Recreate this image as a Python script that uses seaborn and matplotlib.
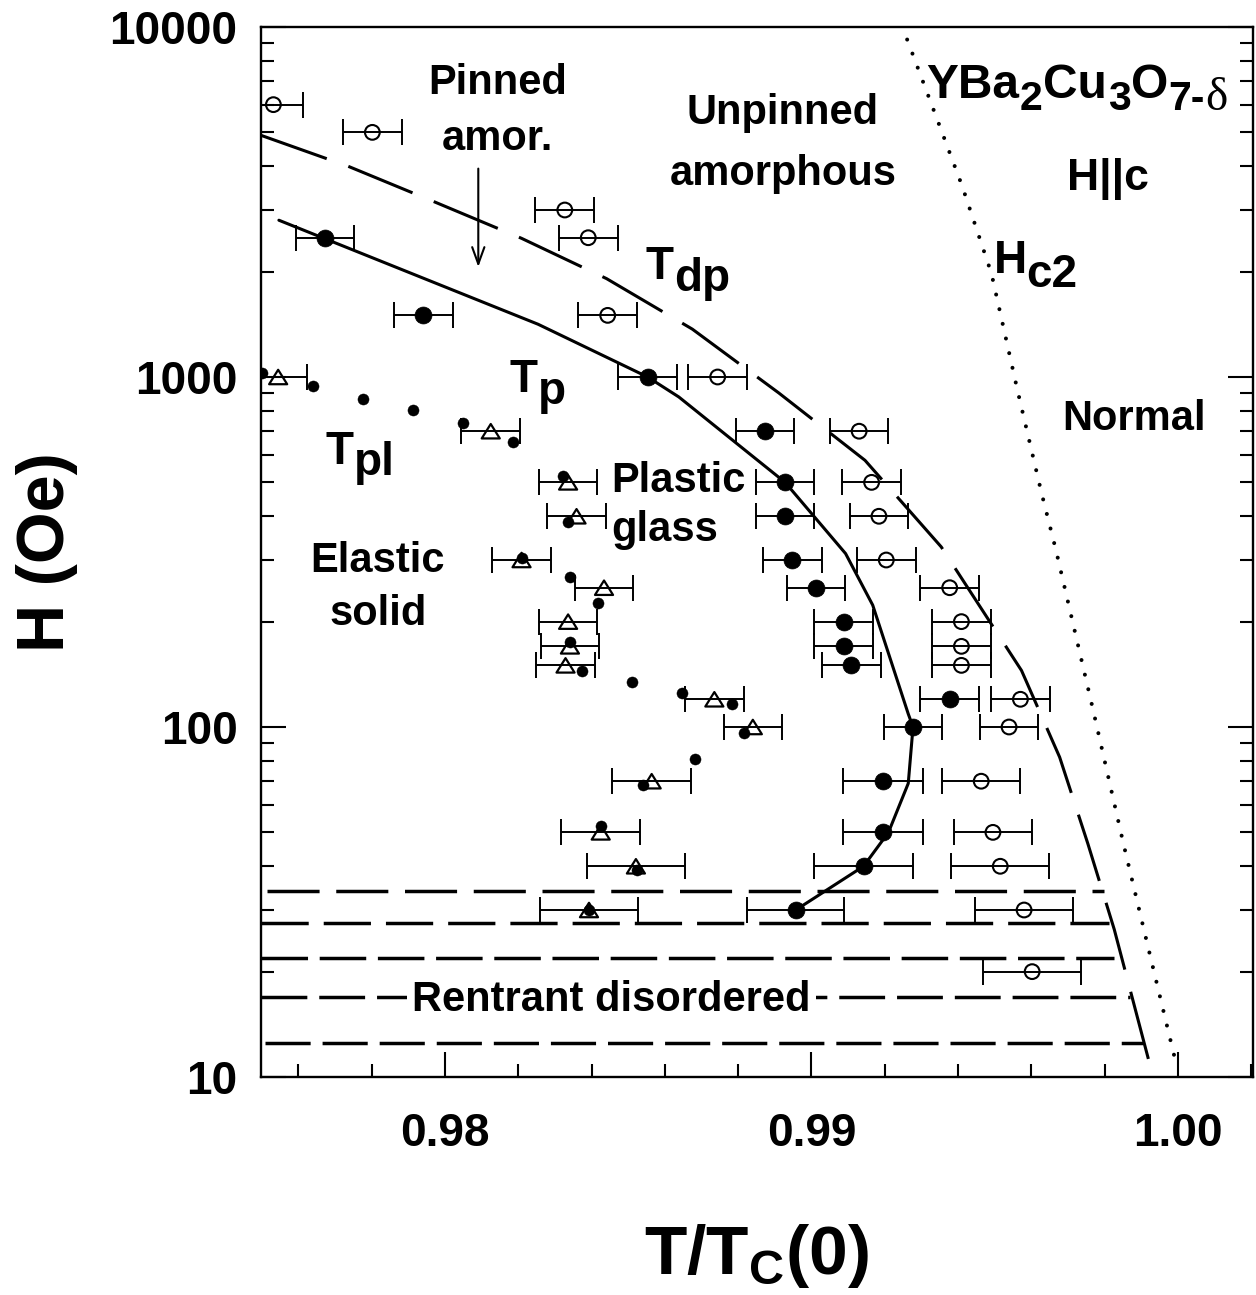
import numpy as np
import matplotlib
matplotlib.use("Agg")
import matplotlib.pyplot as plt
from matplotlib.path import Path
from matplotlib.ticker import MultipleLocator, LogLocator, NullFormatter
import seaborn as sns

# ---------------- data ----------------
# T_dp (open circles)
dp_T = [0.97532, 0.97802, 0.98327, 0.98391, 0.98444, 0.98744, 0.99130, 0.99164, 0.99184, 0.99204,
        0.99377, 0.99409, 0.99409, 0.99409, 0.99570, 0.99539, 0.99463, 0.99495, 0.99515, 0.99580, 0.99602]
dp_H = [6000, 5000, 3000, 2500, 1500, 1000, 700, 500, 400, 300,
        250, 200, 170, 150, 120, 100, 70, 50, 40, 30, 20]
dp_err = [0.0008] * 16 + [0.00107, 0.00107, 0.00134, 0.00134, 0.00134]

# T_p (filled circles)
p_T = [0.97673, 0.97941, 0.98553, 0.98873, 0.98928, 0.98928, 0.98948, 0.99012, 0.99088, 0.99088,
       0.99109, 0.99377, 0.99277, 0.99195, 0.99195, 0.99142, 0.98957]
p_H = [2500, 1500, 1000, 700, 500, 400, 300, 250, 200, 170, 150, 120, 100, 70, 50, 40, 30]
p_err = [0.0008] * 13 + [0.00108, 0.00108, 0.00135, 0.00133]

# triangles
tri_T = [0.97545, 0.98125, 0.98336, 0.98359, 0.98209, 0.98434, 0.98336, 0.98341, 0.98329, 0.98735,
         0.98840, 0.98564, 0.98425, 0.98521, 0.98393]
tri_H = [1000, 700, 500, 400, 300, 250, 200, 170, 150, 120, 100, 70, 50, 40, 30]
tri_err = [0.0008] * 11 + [0.00107, 0.00108, 0.00133, 0.00133]

# T_pl (small dots)
pl_T = [0.97502, 0.97641, 0.97776, 0.97914, 0.98048, 0.98185, 0.98323, 0.98335, 0.98209, 0.98341,
        0.98418, 0.98341, 0.98373, 0.98511, 0.98646, 0.98784, 0.98816, 0.98682, 0.98541, 0.98425,
        0.98523, 0.98393]
pl_H = [1030, 940, 867, 803, 739, 652, 520, 384, 303, 268,
        226, 175, 145, 134.5, 125.4, 116.7, 96.2, 81.2, 68.1, 52,
        39, 30]

# solid T_p curve
line_p_T = [0.97547, 0.98254, 0.98553, 0.98638, 0.98928, 0.99093, 0.99167, 0.99264, 0.99277,
            0.99264, 0.99210, 0.99142, 0.98957]
line_p_H = [2805, 1415, 1000, 877, 500, 313, 223, 109, 100, 69, 50, 40, 30]

# dashed T_dp curve
line_dp_T = [0.97499, 0.97736, 0.97973, 0.98209, 0.98441, 0.98675, 0.98911, 0.99146, 0.99354,
             0.99573, 0.99677, 0.99754, 0.99826, 0.99932]
line_dp_H = [4900, 4000, 3160, 2490, 1910, 1370, 900, 578, 327, 145, 82, 46.4, 26.4, 10]

# dotted Hc2
hc2_T = [0.99261, 0.99337, 0.99411, 0.99491, 0.99562, 0.99627, 0.99667, 0.99769, 0.99850,
         0.99917, 0.99994]
hc2_H = [9207, 5656, 3513, 1975, 916, 469, 320, 111, 46.9, 23.8, 11.0]

# re-entrant disordered horizontal dashed lines
re_H = [34.0, 27.6, 21.9, 16.9, 12.5]
re_T0 = [0.97514, 0.97498, 0.97498, 0.97498, 0.97508]
re_T1 = [0.99797, 0.99811, 0.99826, 0.99869, 0.99905]
re_dash = [(37.5, 12.0), (34.0, 10.8), (33.5, 8.4), (33.0, 8.6), (32.5, 8.6)]

x_ticks = [0.98, 0.99, 1.00]
x_ticklabels = ["0.98", "0.99", "1.00"]
y_ticks = [10, 100, 1000, 10000]
y_ticklabels = ["10", "100", "1000", "10000"]

# ---------------- style ----------------
sns.set_theme(style="white")
plt.rcParams["font.family"] = ["Liberation Sans", "DejaVu Sans"]
plt.rcParams["font.weight"] = "bold"
plt.rcParams["mathtext.fontset"] = "custom"
plt.rcParams["mathtext.rm"] = "Liberation Sans:bold"
plt.rcParams["mathtext.it"] = "Liberation Sans:bold"
plt.rcParams["mathtext.bf"] = "Liberation Sans:bold"
plt.rcParams["mathtext.sf"] = "Liberation Sans:bold"
plt.rcParams["lines.scale_dashes"] = False
plt.rcParams["axes.edgecolor"] = "black"
plt.rcParams["text.color"] = "black"
plt.rcParams["axes.labelcolor"] = "black"
plt.rcParams["xtick.color"] = "black"
plt.rcParams["ytick.color"] = "black"

fig = plt.figure(figsize=(12.56, 12.95), dpi=100)
ax = fig.add_axes([261 / 1256, 1 - 1077 / 1295, 992 / 1256, 1050 / 1295])
ax.set_yscale("log")
ax.set_xlim(0.974982, 1.002045)
ax.set_ylim(10, 10000)

K = "black"

# curves
sns.lineplot(x=line_p_T, y=line_p_H, sort=False, estimator=None, color=K, lw=2.2, ax=ax)
sns.lineplot(x=line_dp_T, y=line_dp_H, sort=False, estimator=None, color=K, lw=2.2,
             linestyle=(0, (50, 16.5)), ax=ax)
sns.lineplot(x=hc2_T, y=hc2_H, sort=False, estimator=None, color=K, lw=2.9,
             linestyle=(0, (0.01, 10.8)), dash_capstyle="round", ax=ax)
for h, t0, t1, d in zip(re_H, re_T0, re_T1, re_dash):
    sns.lineplot(x=[t0, t1], y=[h, h], sort=False, estimator=None, color=K, lw=2.5,
                 linestyle=(0, d), ax=ax)

# error bars
eb = dict(fmt="none", ecolor=K, elinewidth=1.4, capsize=9.6, capthick=1.4, zorder=3)
ax.errorbar(dp_T, dp_H, xerr=dp_err, **eb)
ax.errorbar(p_T, p_H, xerr=p_err, **eb)
ax.errorbar(tri_T, tri_H, xerr=tri_err, **eb)

# markers
sns.scatterplot(x=dp_T, y=dp_H, marker="o", s=10.6 ** 2, ax=ax, zorder=4)
c = ax.collections[-1]
c.set_facecolor("none"); c.set_edgecolor(K); c.set_linewidth(1.5)

sns.scatterplot(x=p_T, y=p_H, marker="o", s=12.2 ** 2, ax=ax, zorder=4)
c = ax.collections[-1]
c.set_facecolor(K); c.set_edgecolor(K); c.set_linewidth(0.5)

tri_path = Path([(-1, -0.8), (1, -0.8), (0, 0.8), (-1, -0.8)],
                [Path.MOVETO, Path.LINETO, Path.LINETO, Path.CLOSEPOLY])
sns.scatterplot(x=tri_T, y=tri_H, marker=tri_path, s=13 ** 2, ax=ax, zorder=4)
c = ax.collections[-1]
c.set_facecolor("none"); c.set_edgecolor(K); c.set_linewidth(1.6)

sns.scatterplot(x=pl_T, y=pl_H, marker="o", s=8.0 ** 2, ax=ax, zorder=5)
c = ax.collections[-1]
c.set_facecolor(K); c.set_edgecolor(K); c.set_linewidth(0.3)

# ---------------- text ----------------
tk = dict(color=K, fontweight="bold")
ax.text(0.98143, 6424, "Pinned", fontsize=30, ha="center", va="baseline", **tk)
ax.text(0.98143, 4443, "amor.", fontsize=30, ha="center", va="baseline", **tk)
ax.annotate("", xy=(0.98091, 2062), xytext=(0.98091, 3939),
            arrowprops=dict(arrowstyle="->,head_length=0.55,head_width=0.2", lw=1.5,
                            color=K, mutation_scale=22, shrinkA=0, shrinkB=0))
ax.text(0.98920, 5297, "Unpinned", fontsize=30, ha="center", va="baseline", **tk)
ax.text(0.98922, 3529, "amorphous", fontsize=30, ha="center", va="baseline", **tk)

# YBa2Cu3O7-δ built from consecutive pieces (large subscripts as in the original)
fig.canvas.draw()
renderer = fig.canvas.get_renderer()
formula = [("YBa", 34.5, 0, "bold", None), ("2", 29.5, -12, "bold", None),
           ("Cu", 34.5, 0, "bold", None), ("3", 29.5, -12, "bold", None),
           ("O", 34.5, 0, "bold", None), ("7-", 29.5, -12, "bold", None),
           ("δ", 34, -12, "normal", ["Liberation Serif", "DejaVu Serif"])]
dx = 0.0
for txt, size, dy, wt, fam in formula:
    kw = dict(fontsize=size, ha="left", va="baseline", color=K, fontweight=wt)
    if fam is not None:
        kw["family"] = fam
    t = ax.annotate(txt, xy=(0.99314, 6266), xytext=(dx, dy), textcoords="offset pixels", **kw)
    dx += t.get_window_extent(renderer).width + 0.5

ax.text(0.99808, 3415, "H||c", fontsize=32, ha="center", va="baseline", **tk)
ax.text(0.99880, 704, "Normal", fontsize=30, ha="center", va="baseline", **tk)
ax.text(0.97817, 277, "Elastic", fontsize=30, ha="center", va="baseline", **tk)
ax.text(0.97817, 195, "solid", fontsize=30, ha="center", va="baseline", **tk)
ax.text(0.98455, 469, "Plastic", fontsize=30, ha="left", va="baseline", **tk)
ax.text(0.98455, 339, "glass", fontsize=30, ha="left", va="baseline", **tk)
ax.text(0.98455, 15.44, "Rentrant disordered", fontsize=30, ha="center", va="baseline",
        bbox=dict(facecolor="white", edgecolor="none", pad=3.5), zorder=6, **tk)


def sublabel(x, y, main, sub, adv, drop=8.6):
    ax.text(x, y, main, fontsize=33, ha="left", va="baseline", **tk)
    ax.annotate(sub, xy=(x, y), xytext=(adv, -drop), textcoords="offset points",
                fontsize=33, ha="left", va="baseline", **tk)


sublabel(0.98548, 1910, "T", "dp", 20.6)
sublabel(0.98175, 906, "T", "p", 20.6)
sublabel(0.97673, 566, "T", "pl", 20.6)
sublabel(0.99497, 1978, "H", "c2", 23.8, drop=9.5)

# ---------------- axes ----------------
ax.set_xticks(x_ticks, labels=x_ticklabels)
ax.xaxis.set_minor_locator(MultipleLocator(0.002))
ax.set_yticks(y_ticks, labels=y_ticklabels)
ax.yaxis.set_minor_locator(LogLocator(base=10, subs=np.arange(2, 10)))
ax.yaxis.set_minor_formatter(NullFormatter())
ax.tick_params(axis="both", which="both", direction="in", width=1.5, color=K, labelcolor=K)
ax.tick_params(axis="both", which="major", length=18)
ax.tick_params(axis="both", which="minor", length=9.5)
ax.tick_params(axis="x", which="both", bottom=True, top=False, pad=25, labelsize=33)
ax.tick_params(axis="y", which="both", left=True, right=True, pad=17, labelsize=33)
for lab in ax.get_xticklabels() + ax.get_yticklabels():
    lab.set_fontweight("bold")
for s in ax.spines.values():
    s.set_linewidth(1.7)
    s.set_color(K)
    s.set_visible(True)

ax.set_xlabel(r"$\mathrm{T/T_C(0)}$", fontsize=50, fontweight="bold", color=K)
ax.set_ylabel("H (Oe)", fontsize=48, fontweight="bold", color=K)
ax.xaxis.set_label_coords(0.5, -0.138)
ax.yaxis.label.set_verticalalignment("center")
ax.yaxis.set_label_coords((47 - 261) / 992, 0.5)

fig.savefig("out.png", dpi=100, facecolor="white")
